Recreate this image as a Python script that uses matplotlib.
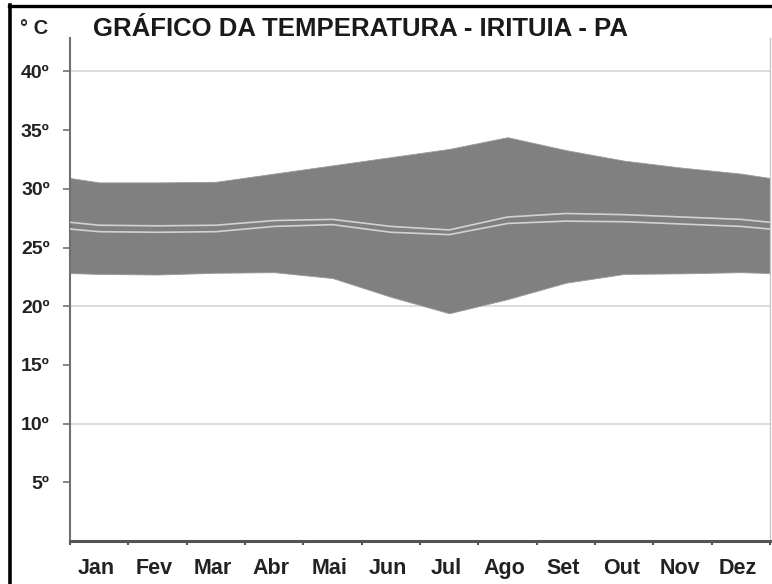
import numpy as np
import matplotlib
matplotlib.use('Agg')
import matplotlib.pyplot as plt
from matplotlib.lines import Line2D
from matplotlib.transforms import ScaledTranslation

plt.rcParams['font.family'] = ['Liberation Sans', 'DejaVu Sans']

# monthly values
months = ['Jan', 'Fev', 'Mar', 'Abr', 'Mai', 'Jun', 'Jul', 'Ago', 'Set', 'Out', 'Nov', 'Dez']
t_max = [30.55, 30.55, 30.6, 31.3, 32.0, 32.7, 33.4, 34.4, 33.3, 32.4, 31.8, 31.3]
t_min = [22.75, 22.7, 22.85, 22.9, 22.4, 20.8, 19.4, 20.6, 22.0, 22.75, 22.8, 22.9]
t_med_sup = [26.9, 26.85, 26.9, 27.3, 27.4, 26.8, 26.5, 27.6, 27.9, 27.8, 27.6, 27.4]
t_med_inf = [26.35, 26.3, 26.35, 26.8, 26.95, 26.3, 26.1, 27.05, 27.25, 27.2, 27.0, 26.8]
y_ticks = [5, 10, 15, 20, 25, 30, 35, 40]
y_grid = [10, 20, 30, 40]

title = 'GRÁFICO DA TEMPERATURA - IRITUIA - PA'

fig = plt.figure(figsize=(7.72, 5.84), dpi=100)
ax = fig.add_axes([70 / 772, 43 / 584, 700 / 772, 503 / 584])

# month centres, wrapped around so the band runs to both edges
x = np.arange(12) + 0.5
xw = np.r_[x[-1] - 12, x, x[0] + 12]
def wrap(v):
    return np.r_[v[-1], v, v[0]]

for g in y_grid:
    ax.axhline(g, color='#d9d9d9', lw=1.3, zorder=1)

ax.fill_between(xw, wrap(t_min), wrap(t_max), color='#808080', lw=0.6,
                edgecolor='#9a9a9a', zorder=2)
ax.plot(xw, wrap(t_med_sup), color='#d2d2d2', lw=1.2, zorder=3)
ax.plot(xw, wrap(t_med_inf), color='#d2d2d2', lw=1.2, zorder=3)

ax.set_xlim(0, 12)
ax.set_ylim(0, 42.85)

ax.spines['top'].set_visible(False)
ax.spines['bottom'].set_color('#555555')
ax.spines['bottom'].set_linewidth(2.2)
ax.spines['left'].set_color('#707070')
ax.spines['left'].set_linewidth(1.5)
ax.spines['right'].set_color('#c4c4c4')
ax.spines['right'].set_linewidth(0.9)

ax.set_xticks(np.arange(13))
ax.set_xticklabels([])
ax.set_xticks(x, minor=True)
ax.set_xticklabels(months, minor=True, fontsize=15.5, fontweight='bold', color='#222222')
ax.tick_params(axis='x', which='major', length=3, width=1.5, color='#555555')
ax.tick_params(axis='x', which='minor', length=0, pad=12)
shift = ScaledTranslation(-3 / 100, 0, fig.dpi_scale_trans)
for lbl in ax.xaxis.get_minorticklabels():
    lbl.set_transform(lbl.get_transform() + shift)

ax.set_yticks(y_ticks)
ax.set_yticklabels([f'{v}º' for v in y_ticks], fontsize=14, fontweight='bold', color='#222222')
ax.tick_params(axis='y', length=5, width=1.2, color='#707070', pad=9.5)

fig.text(20 / 772, 1 - 28 / 584, '° C', fontsize=14.5, fontweight='bold', color='#222222', va='center')
fig.text(93 / 772, 1 - 29.5 / 584, title, fontsize=18.5, fontweight='bold', color='#1a1a1a', va='center')

# black frame on left and top edges
fig.add_artist(Line2D([10 / 772, 10 / 772], [0, 1 - 5 / 584], color='black', lw=2.6))
fig.add_artist(Line2D([8.5 / 772, 1], [1 - 6 / 584, 1 - 6 / 584], color='black', lw=2.4))

plt.savefig('out.png', dpi=100)
